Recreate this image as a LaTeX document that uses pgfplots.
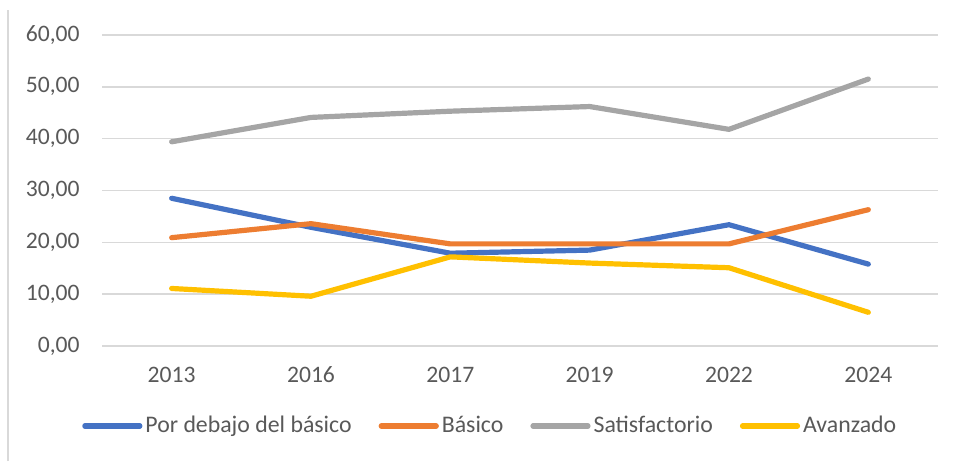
\documentclass[border=0pt]{standalone}
\usepackage{pgfplots}
\pgfplotsset{compat=1.18}
\usepackage{fontspec}
\setmainfont{Carlito}
\definecolor{cblue}{HTML}{4472C4}
\definecolor{corange}{HTML}{ED7D31}
\definecolor{cgray}{HTML}{A5A5A5}
\definecolor{cyellow}{HTML}{FFC000}
\definecolor{cgrid}{HTML}{D9D9D9}
\definecolor{ctext}{HTML}{595959}
\begin{document}
\fontsize{11.5}{14}\selectfont
\begin{tikzpicture}
\path[use as bounding box] (0,0) rectangle (477pt,230.5pt);
\draw[cgrid, line width=0.75pt] (4pt,0) -- (4pt,225.5pt);
\begin{axis}[
  at={(51pt,57.5pt)}, anchor=south west,
  scale only axis, width=418pt, height=155.5pt,
  xmin=-0.5, xmax=5.5, ymin=0, ymax=60,
  xtick={0,1,2,3,4,5},
  xticklabels={2013,2016,2017,2019,2022,2024},
  ytick={0,10,20,30,40,50,60},
  axis line style={draw=none},
  major tick length=0pt,
  ymajorgrids, grid style={cgrid, line width=0.75pt},
  tick label style={font=\fontsize{11.8}{14}\selectfont, text=ctext},
  yticklabel style={anchor=east, inner sep=0pt, xshift=-11pt},
  xticklabel style={anchor=north, inner sep=0pt, text height=8pt, yshift=-10pt},
  /pgf/number format/.cd, fixed, fixed zerofill, precision=2, use comma, assume math mode=true,
  /pgfplots/.cd,
  legend columns=4,
  legend style={draw=none, fill=none, at={(0.465,-0.257)}, anchor=center,
    font=\fontsize{11.9}{14}\selectfont, text=ctext,
    /tikz/every even column/.append style={column sep=12pt},
    inner sep=0pt, nodes={inner sep=1.5pt}},
  legend image code/.code={\draw[#1, line width=2.6pt] (0pt,0pt) -- (27.5pt,0pt);},
  every axis plot/.append style={line width=2.6pt, line join=round, line cap=round, mark=none},
]
\addplot[cblue] coordinates {(0,28.5) (1,22.9) (2,17.9) (3,18.5) (4,23.4) (5,15.8)};
\addlegendentry{Por debajo del básico}
\addplot[corange] coordinates {(0,20.9) (1,23.6) (2,19.7) (3,19.7) (4,19.7) (5,26.3)};
\addlegendentry{Básico}
\addplot[cgray] coordinates {(0,39.4) (1,44.1) (2,45.3) (3,46.2) (4,41.8) (5,51.5)};
\addlegendentry{Satisfactorio}
\addplot[cyellow] coordinates {(0,11.1) (1,9.6) (2,17.2) (3,16.0) (4,15.1) (5,6.5)};
\addlegendentry{Avanzado}
\end{axis}
\end{tikzpicture}
\end{document}
